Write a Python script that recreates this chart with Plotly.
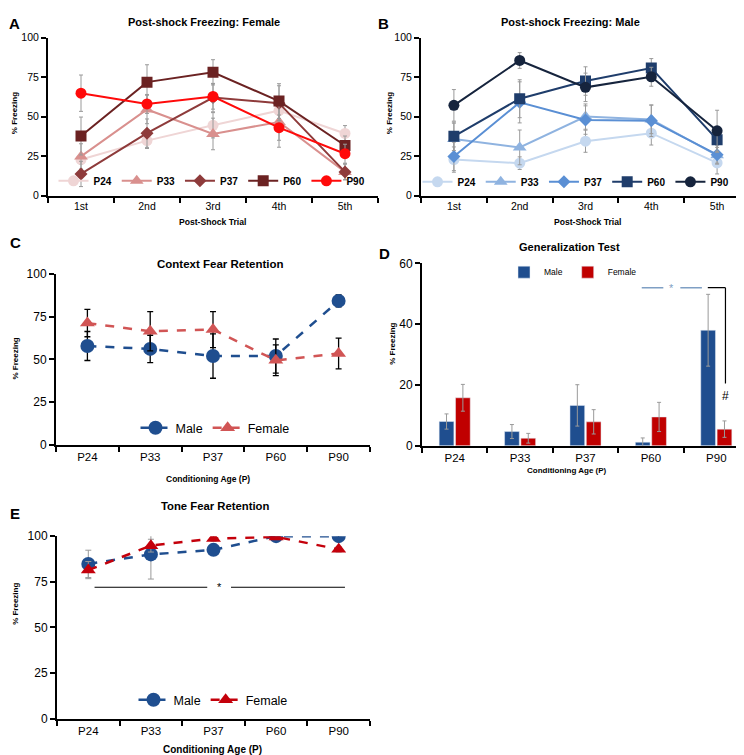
import plotly.graph_objects as go

W, H = 744, 755
def px(x): return x / W
def py(y): return 1 - y / H

# ---------------- data ----------------
trials = ["1st", "2nd", "3rd", "4th", "5th"]
ages = ["P24", "P33", "P37", "P60", "P90"]

# Panel A: post-shock freezing, female
fem_shock = {
    "P24": [22.8, 34.8, 44.5, 53.8, 39.3],
    "P33": [24.8, 54.5, 39.0, 46.6, 15.0],
    "P37": [13.7, 39.5, 62.0, 58.5, 15.0],
    "P60": [37.7, 71.8, 78.0, 59.8, 31.7],
    "P90": [64.8, 58.0, 62.7, 43.0, 26.5],
}
fem_shock_err = {
    "P24": [3, 5, 8, 6, 5],
    "P33": [8, 9, 10, 16, 5],
    "P37": [8, 9, 9, 11, 5],
    "P60": [12, 11, 8, 11, 6],
    "P90": [11.5, 6, 8, 8, 6],
}
# Panel B: post-shock freezing, male
male_shock = {
    "P24": [22.8, 20.5, 34.4, 39.5, 20.7],
    "P33": [35.8, 30.5, 50.0, 48.2, 25.5],
    "P37": [24.8, 59.0, 47.8, 47.4, 25.9],
    "P60": [37.5, 61.3, 72.5, 80.7, 35.4],
    "P90": [57.1, 85.5, 68.5, 75.2, 41.0],
}
male_shock_err = {
    "P24": [8, 4, 7, 7.5, 7],
    "P33": [10, 11, 8, 9, 5],
    "P37": [9, 13, 9, 10, 6],
    "P60": [9, 12, 9, 6, 8],
    "P90": [10, 5, 9, 6, 13],
}
# Panel C: context fear retention
ctx_male = [57.9, 56.2, 52.0, 52.0, 84.3]
ctx_male_err = [8.5, 8, 13, 10, 3.5]
ctx_female = [71.3, 66.5, 67.5, 49.5, 53.5]
ctx_female_err = [8, 11.5, 10.5, 9, 9]
# Panel D: generalization test
gen_male = [8.0, 4.7, 13.3, 1.2, 38.0]
gen_male_err = [2.5, 2.3, 6.8, 1.4, 11.8]
gen_female = [15.8, 2.5, 7.9, 9.5, 5.5]
gen_female_err = [4.4, 1.6, 4.0, 4.8, 2.7]
# Panel E: tone fear retention
tone_male = [84.8, 90.0, 92.5, 100.0, 100.0]
tone_male_err = [7.5, 13.5, 1.0, 0.5, 0.5]
tone_female = [81.4, 94.8, 98.7, 99.6, 92.8]
tone_female_err = [4.7, 3.5, 1.5, 1.0, 1.5]

# ---------------- styles ----------------
symbols = {"P24": "circle", "P33": "triangle-up", "P37": "diamond", "P60": "square", "P90": "circle"}
msizes = {"P24": 11, "P33": 12, "P37": 10, "P60": 11, "P90": 11}
fem_colors = {"P24": "#efd5d5", "P33": "#d9908e", "P37": "#8e3b3b", "P60": "#6b2222", "P90": "#ff0a0a"}
male_colors = {"P24": "#c5d8ef", "P33": "#8fb3e0", "P37": "#5a8fd4", "P60": "#1f3d6b", "P90": "#16243d"}
BLUE = "#1f4e8f"
RED_C = "#d15555"
RED_E = "#c4000b"
RED_D = "#c00000"
GREY = "#9a9a9a"
FONT = "Liberation Sans, Arial, sans-serif"

fig = go.Figure()

for age in ages:
    fig.add_trace(go.Scatter(
        x=trials, y=fem_shock[age], name=age, mode="lines+markers",
        line=dict(color=fem_colors[age], width=2),
        marker=dict(symbol=symbols[age], size=msizes[age], color=fem_colors[age]),
        error_y=dict(type="data", array=fem_shock_err[age], color=GREY, thickness=1, width=2),
        xaxis="x", yaxis="y", legend="legend"))
for age in ages:
    fig.add_trace(go.Scatter(
        x=trials, y=male_shock[age], name=age, mode="lines+markers",
        line=dict(color=male_colors[age], width=2),
        marker=dict(symbol=symbols[age], size=msizes[age], color=male_colors[age]),
        error_y=dict(type="data", array=male_shock_err[age], color=GREY, thickness=1, width=2),
        xaxis="x2", yaxis="y2", legend="legend2"))

fig.add_trace(go.Scatter(
    x=ages, y=ctx_male, name="Male", mode="lines+markers",
    line=dict(color=BLUE, width=2.5, dash="dash"),
    marker=dict(symbol="circle", size=14, color=BLUE),
    error_y=dict(type="data", array=ctx_male_err, color="black", thickness=1.3, width=3),
    xaxis="x3", yaxis="y3", legend="legend3"))
fig.add_trace(go.Scatter(
    x=ages, y=ctx_female, name="Female", mode="lines+markers",
    line=dict(color=RED_C, width=2.5, dash="dash"),
    marker=dict(symbol="triangle-up", size=13, color=RED_C),
    error_y=dict(type="data", array=ctx_female_err, color="black", thickness=1.3, width=3),
    xaxis="x3", yaxis="y3", legend="legend3"))

fig.add_trace(go.Bar(
    x=ages, y=gen_male, name="Male", marker=dict(color=BLUE),
    error_y=dict(type="data", array=gen_male_err, color=GREY, thickness=1, width=2),
    xaxis="x4", yaxis="y4", legend="legend4"))
fig.add_trace(go.Bar(
    x=ages, y=gen_female, name="Female", marker=dict(color=RED_D),
    error_y=dict(type="data", array=gen_female_err, color=GREY, thickness=1, width=2),
    xaxis="x4", yaxis="y4", legend="legend4"))

fig.add_trace(go.Scatter(
    x=ages, y=tone_male, name="Male", mode="lines+markers",
    line=dict(color=BLUE, width=2.5, dash="dash"),
    marker=dict(symbol="circle", size=14, color=BLUE),
    error_y=dict(type="data", array=tone_male_err, color=GREY, thickness=1, width=3),
    xaxis="x5", yaxis="y5", legend="legend5"))
fig.add_trace(go.Scatter(
    x=ages, y=tone_female, name="Female", mode="lines+markers",
    line=dict(color=RED_E, width=2.5, dash="dash"),
    marker=dict(symbol="triangle-up", size=13, color=RED_E),
    error_y=dict(type="data", array=tone_female_err, color=GREY, thickness=1, width=3),
    xaxis="x5", yaxis="y5", legend="legend5"))

# ---------------- axes ----------------
def xax(dom, anchor, fs, cats):
    return dict(domain=[px(dom[0]), px(dom[1])], anchor=anchor, type="category",
                categoryorder="array", categoryarray=cats,
                range=[-0.5, 4.5], tickson="boundaries", ticks="outside", ticklen=5,
                tickwidth=1.5, tickcolor="black", showline=True, linecolor="black",
                linewidth=2, showgrid=False, zeroline=False,
                tickfont=dict(family=FONT, size=fs, color="black"))

def yax(dom, anchor, rng, dtick, fs):
    return dict(domain=[py(dom[1]), py(dom[0])], anchor=anchor, range=rng, dtick=dtick,
                ticks="outside", ticklen=5, tickwidth=1.5, tickcolor="black",
                showline=True, linecolor="black", linewidth=2, showgrid=False,
                zeroline=False, tickfont=dict(family=FONT, size=fs, color="black"))

layout = dict(
    width=W, height=H, margin=dict(l=0, r=0, t=0, b=0),
    paper_bgcolor="white", plot_bgcolor="white",
    font=dict(family=FONT, color="black"),
    barmode="group", bargap=0.5, bargroupgap=0.1,
    xaxis=xax((40, 370), "y", 10.5, trials), yaxis=yax((23, 184), "x", [0, 100], 25, 10.5),
    xaxis2=xax((413, 742), "y2", 10.5, trials), yaxis2=yax((23, 184), "x2", [0, 100], 25, 10.5),
    xaxis3=xax((48, 362), "y3", 11.5, ages), yaxis3=yax((264, 438), "x3", [0, 100], 25, 12),
    xaxis4=xax((414, 741), "y4", 11.5, ages), yaxis4=yax((253, 439), "x4", [0, 60], 20, 12),
    xaxis5=xax((49, 362), "y5", 11.5, ages), yaxis5=yax((531, 717), "x5", [0, 100], 25, 12),
)

def leg(cx, cy, fs, bold=False):
    return dict(orientation="h", x=px(cx), y=py(cy), xanchor="center", yanchor="middle",
                bgcolor="rgba(0,0,0,0)",
                font=dict(family=FONT, size=fs, color="black", weight="bold" if bold else "normal"),
                tracegroupgap=0)

layout["legend"] = leg(204, 169, 10, True)
layout["legend2"] = leg(568, 170, 10, True)
layout["legend3"] = leg(207, 421, 12.5)
layout["legend4"] = leg(565, 262, 8.5)
layout["legend5"] = leg(205, 698, 12.5)
fig.update_layout(**layout)

# ---------------- text ----------------
ann = []
def text(x, y, s, size, bold=True, angle=0, color="black"):
    ann.append(dict(x=px(x), y=py(y), xref="paper", yref="paper", text=s, showarrow=False,
                    xanchor="center", yanchor="middle", textangle=angle,
                    font=dict(family=FONT, size=size, color=color,
                              weight="bold" if bold else "normal")))

for lab, (x, y) in zip("ABCDE", [(6, 9), (375, 9), (7, 232), (376, 243), (7, 508)]):
    text(x, y, lab, 15)
text(196, 7, "Post-shock Freezing: Female", 11)
text(562, 7, "Post-shock Freezing: Male", 11)
text(212, 254, "Context Fear Retention", 11.5)
text(561, 236, "Generalization Test", 11)
text(207, 500, "Tone Fear Retention", 11.3)
for (x, y) in [(6, 100), (381, 100), (8, 350), (385, 335), (8, 600)]:
    text(x, y, "% Freezing", 8, angle=-90)
text(205, 211, "Post-Shock Trial", 8.6)
text(579, 211, "Post-Shock Trial", 8.6)
text(200, 473, "Conditioning Age (P)", 8.5)
text(559, 464, "Conditioning Age (P)", 8)
text(205, 748, "Conditioning Age (P)", 10)

# significance markers (data coordinates of panels D and E)
SIG_BLUE = "#7f9fc4"
ann.append(dict(x=3.31, y=52, xref="x4", yref="y4", text="*", showarrow=False,
                font=dict(family=FONT, size=11, color=SIG_BLUE)))
ann.append(dict(x=4.14, y=16.5, xref="x4", yref="y4", text="#", showarrow=False,
                font=dict(family=FONT, size=12, color="black")))
ann.append(dict(x=2.1, y=72, xref="x5", yref="y5", text="*", showarrow=False,
                font=dict(family=FONT, size=11, color="black")))
fig.update_layout(annotations=ann)

shapes = [
    dict(type="line", xref="x4", yref="y4", x0=2.86, x1=3.19, y0=52, y1=52,
         line=dict(color=SIG_BLUE, width=1.5)),
    dict(type="line", xref="x4", yref="y4", x0=3.45, x1=3.78, y0=52, y1=52,
         line=dict(color=SIG_BLUE, width=1.5)),
    dict(type="line", xref="x4", yref="y4", x0=3.87, x1=4.14, y0=52, y1=52,
         line=dict(color="black", width=1.2)),
    dict(type="line", xref="x4", yref="y4", x0=4.14, x1=4.14, y0=52, y1=20.5,
         line=dict(color="black", width=1.2)),
    dict(type="line", xref="x5", yref="y5", x0=0.1, x1=1.9, y0=72, y1=72,
         line=dict(color="black", width=1)),
    dict(type="line", xref="x5", yref="y5", x0=2.28, x1=4.1, y0=72, y1=72,
         line=dict(color="black", width=1)),
]
fig.update_layout(shapes=shapes)

fig.write_html("out.html")
